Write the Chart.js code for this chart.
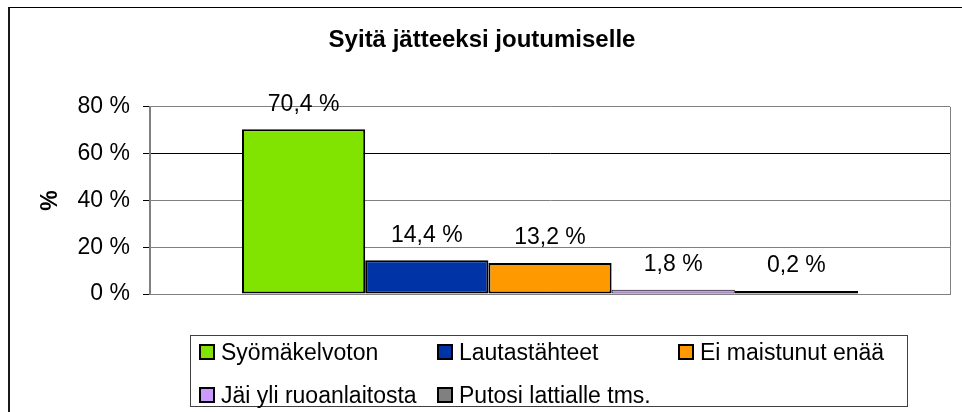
<!DOCTYPE html>
<html>
<head>
<meta charset="utf-8">
<script src="https://cdn.jsdelivr.net/npm/chart.js@4"></script>
<style>
  html, body { margin: 0; padding: 0; background: #fff; }
  #wrap { position: relative; width: 962px; height: 412px; overflow: hidden; background: #fff; }
  #c { position: absolute; left: 0; top: 0; }
  #frame { position: absolute; left: 8px; top: 7px; width: 1000px; height: 500px;
           border-left: 2px solid #1a1a1a; border-top: 1px solid #000; pointer-events: none; }
  #legend { position: absolute; left: 190px; top: 335px; width: 716px; height: 70px;
            border: 1px solid #404040; font-family: "Liberation Sans", Arial, sans-serif;
            font-size: 23px; color: #000; }
  .item { position: absolute; display: flex; align-items: center; white-space: nowrap; height: 28px; }
  .sw { width: 12px; height: 12px; border: 2px solid #000; margin-right: 6px; flex: none; }
</style>
</head>
<body>
<div id="wrap">
  <canvas id="c" width="962" height="412"></canvas>
  <div id="frame"></div>
  <div id="legend"></div>
</div>
<script>
const title = "Syitä jätteeksi joutumiselle";
const yAxisTitle = "%";
const categories = [""];
const seriesNames = ["Syömäkelvoton", "Lautastähteet", "Ei maistunut enää", "Jäi yli ruoanlaitosta", "Putosi lattialle tms."];
const seriesValues = [70.4, 14.4, 13.2, 1.8, 0.2];
const seriesColors = ["#80E400", "#0033A6", "#FF9900", "#CC99FF", "#808080"];
const seriesBorderWidths = [2, 2, 2, 1, 2];
const yTicks = [0, 20, 40, 60, 80];

const fmt = v => v.toFixed(1).replace('.', ',') + ' %';

const datasets = seriesNames.map((name, i) => ({
  label: name,
  data: [seriesValues[i]],
  backgroundColor: seriesColors[i],
  borderColor: '#000',
  borderWidth: seriesBorderWidths[i],
  borderSkipped: false,
  minBarLength: 3,
  categoryPercentage: 0.77,
  barPercentage: 1.0
}));

const valueLabels = {
  id: 'valueLabels',
  afterDatasetsDraw(chart) {
    const ctx = chart.ctx;
    ctx.save();
    ctx.font = '23px "Liberation Sans", Arial, sans-serif';
    ctx.fillStyle = '#000';
    ctx.textAlign = 'center';
    ctx.textBaseline = 'middle';
    chart.data.datasets.forEach((ds, i) => {
      const meta = chart.getDatasetMeta(i);
      meta.data.forEach((bar, j) => {
        ctx.fillText(fmt(ds.data[j]), bar.x, bar.y - 25);
      });
    });
    ctx.restore();
  }
};

new Chart(document.getElementById('c'), {
  type: 'bar',
  data: { labels: categories, datasets },
  options: {
    responsive: false,
    animation: false,
    devicePixelRatio: 1,
    layout: { padding: { left: 14, right: 12, top: 0, bottom: 118 } },
    plugins: {
      legend: { display: false },
      tooltip: { enabled: false },
      title: {
        display: true,
        text: title,
        color: '#000',
        font: { family: '"Liberation Sans", Arial, sans-serif', size: 24, weight: 'bold' },
        padding: { top: 26, bottom: 52 }
      }
    },
    scales: {
      x: {
        ticks: { display: false },
        grid: { color: '#808080', lineWidth: 1, drawTicks: false, offset: true },
        border: { color: '#808080', width: 1 }
      },
      y: {
        min: 0, max: 80,
        afterFit(s) { s.width = 136; },
        afterBuildTicks(s) { s.ticks = yTicks.map(v => ({ value: v })); },
        ticks: {
          stepSize: 20,
          padding: 13,
          color: '#000',
          font: { family: '"Liberation Sans", Arial, sans-serif', size: 23 },
          callback: v => v + ' %'
        },
        grid: {
          color: c => (c.tick && c.tick.value === 60) ? '#000' : '#808080',
          tickColor: '#000',
          tickLength: 7,
          lineWidth: 1
        },
        border: { color: '#808080', width: 2 },
        title: {
          display: true,
          text: yAxisTitle,
          color: '#000',
          font: { family: '"Liberation Sans", Arial, sans-serif', size: 23, weight: 'bold' },
          padding: { top: 23, bottom: 0 }
        }
      }
    }
  },
  plugins: [valueLabels]
});

// HTML legend in three columns, built from the series arrays
const legend = document.getElementById('legend');
const colX = [8, 246, 487];
const rowY = [2, 45];
seriesNames.forEach((name, i) => {
  const it = document.createElement('div');
  it.className = 'item';
  it.style.left = colX[i % 3] + 'px';
  it.style.top = rowY[Math.floor(i / 3)] + 'px';
  const sw = document.createElement('span');
  sw.className = 'sw';
  sw.style.background = seriesColors[i];
  const tx = document.createElement('span');
  tx.textContent = name;
  it.appendChild(sw); it.appendChild(tx);
  legend.appendChild(it);
});
</script>
</body>
</html>
